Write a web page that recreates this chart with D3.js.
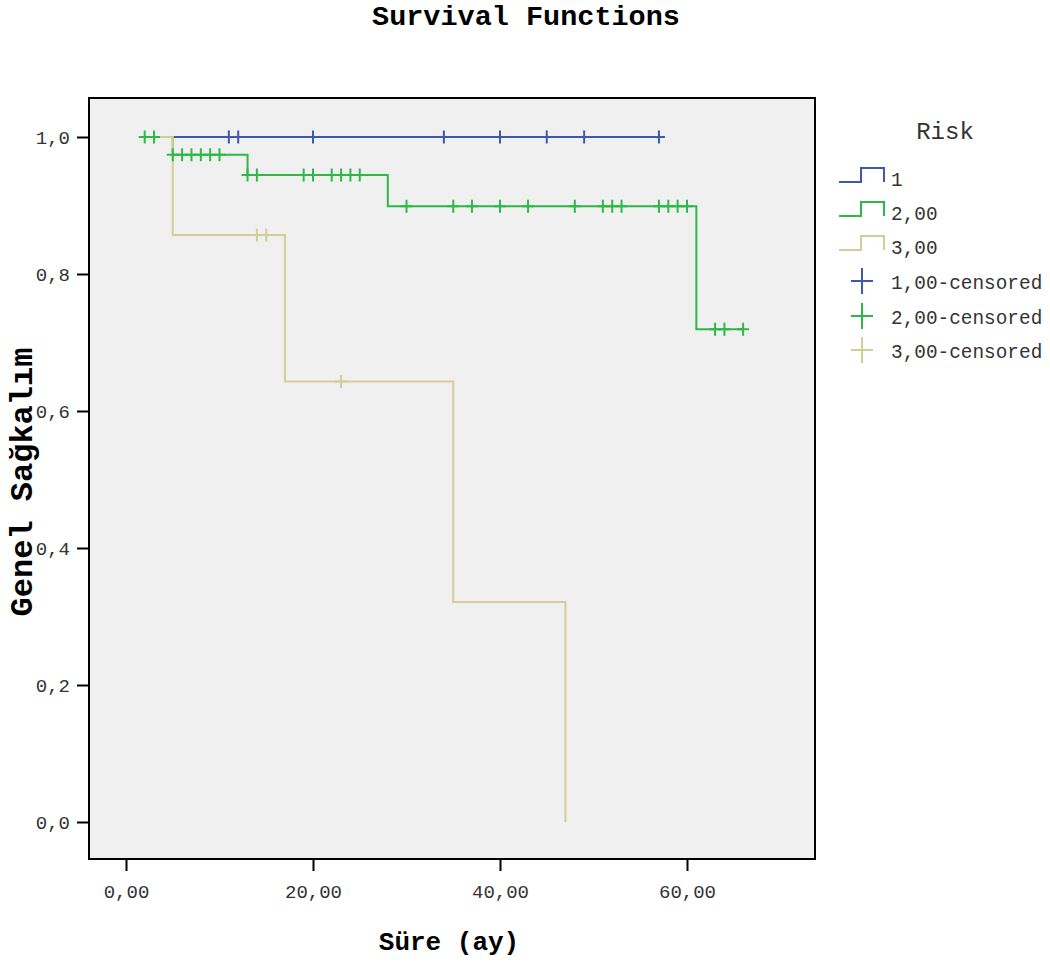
<!DOCTYPE html>
<html><head><meta charset="utf-8">
<script src="https://cdn.jsdelivr.net/npm/d3@7"></script>
<style>body{margin:0;background:#fff}svg{display:block}text{font-family:"Liberation Mono","DejaVu Sans Mono",monospace}</style>
</head><body><svg id="c" width="1050" height="963"></svg>
<script>
// ---- data ----
const groupLabels = ["1", "2,00", "3,00"];
const censorLabels = ["1,00-censored", "2,00-censored", "3,00-censored"];
const groupColors = ["#3E58AC", "#2EB848", "#D3CE97"];
// start/end time of each curve
const startTimes = [5, 2, 3.5];
const endTimes = [57, 66, 47];
// event times and survival after each event
const eventTimes1 = [];
const eventSurv1 = [];
const eventTimes2 = [5, 13, 28, 61];
const eventSurv2 = [0.974, 0.9445, 0.899, 0.7195];
const eventTimes3 = [5, 17, 35, 47];
const eventSurv3 = [0.857, 0.643, 0.321, 0.0];
// censored times
const censored1 = [11, 12, 20, 34, 40, 45, 49, 57];
const censored2 = [2, 3, 5, 6, 7, 8, 9, 10, 13, 14, 19, 20, 22, 23, 24, 25, 30, 35, 37, 40, 43, 48, 51, 52, 53, 57, 58, 59, 60, 63, 64, 66];
const censored3 = [14, 15, 23];
const xTicks = [0, 20, 40, 60];
const yTicks = [0, 0.2, 0.4, 0.6, 0.8, 1.0];

const eventTimes = [eventTimes1, eventTimes2, eventTimes3];
const eventSurv = [eventSurv1, eventSurv2, eventSurv3];
const censored = [censored1, censored2, censored3];

// ---- layout ----
const svg = d3.select("#c");
const box = {l: 89, t: 98, r: 815, b: 859};
const x = d3.scaleLinear().domain([0, 60]).range([126, 687]);
const y = d3.scaleLinear().domain([0, 1]).range([822, 137]);

svg.append("rect").attr("x", box.l).attr("y", box.t).attr("width", box.r - box.l).attr("height", box.b - box.t)
  .attr("fill", "#F0F0F0");

function survAt(g, t) {
  let s = 1;
  eventTimes[g].forEach((et, i) => { if (et <= t) s = eventSurv[g][i]; });
  return s;
}
function stepPoints(g) {
  const pts = [[startTimes[g], 1]];
  let s = 1;
  eventTimes[g].forEach((et, i) => {
    pts.push([et, s]);
    s = eventSurv[g][i];
    pts.push([et, s]);
  });
  const last = pts[pts.length - 1];
  if (endTimes[g] > last[0]) pts.push([endTimes[g], s]);
  return pts;
}
const line = d3.line().x(d => x(d[0])).y(d => y(d[1]));
[0, 1, 2].forEach(g => {
  svg.append("path").attr("d", line(stepPoints(g))).attr("fill", "none")
    .attr("stroke", groupColors[g]).attr("stroke-width", 2);
});
[0, 1, 2].forEach(g => {
  svg.append("g").selectAll("path").data(censored[g]).join("path")
    .attr("d", t => { const cx = x(t), cy = y(survAt(g, t)); return `M${cx - 6},${cy}H${cx + 6}M${cx},${cy - 6.5}V${cy + 6.5}`; })
    .attr("stroke", groupColors[g]).attr("stroke-width", 2).attr("fill", "none");
});

// frame
svg.append("rect").attr("x", box.l).attr("y", box.t).attr("width", box.r - box.l).attr("height", box.b - box.t)
  .attr("fill", "none").attr("stroke", "#000").attr("stroke-width", 2);

// axes
const xAxis = d3.axisBottom(x).tickValues(xTicks).tickSize(12).tickPadding(14)
  .tickFormat(d => d3.format(".2f")(d).replace(".", ","));
const gx = svg.append("g").attr("transform", `translate(0,${box.b})`).call(xAxis);
gx.select(".domain").remove();
gx.selectAll("line").attr("stroke", "#000").attr("stroke-width", 2);
gx.selectAll("text").attr("font-size", 19).attr("fill", "#333").attr("font-family", "Liberation Mono");

const yAxis = d3.axisLeft(y).tickValues(yTicks).tickSize(12).tickPadding(7)
  .tickFormat(d => d3.format(".1f")(d).replace(".", ","));
const gy = svg.append("g").attr("transform", `translate(${box.l},0)`).call(yAxis);
gy.select(".domain").remove();
gy.selectAll("line").attr("stroke", "#000").attr("stroke-width", 2);
gy.selectAll("text").attr("font-size", 19).attr("fill", "#333").attr("font-family", "Liberation Mono");

// titles
svg.append("text").attr("x", 526).attr("y", 25).attr("text-anchor", "middle")
  .attr("font-size", 28.5).attr("font-weight", "bold").attr("fill", "#000").text("Survival Functions");
svg.append("text").attr("x", 449).attr("y", 950).attr("text-anchor", "middle")
  .attr("font-size", 26).attr("font-weight", "bold").attr("fill", "#000").text("Süre (ay)");
svg.append("text").attr("transform", "translate(32,482) rotate(-90)").attr("text-anchor", "middle")
  .attr("font-size", 32).attr("font-weight", "bold").attr("fill", "#000").text("Genel Sağkalım");

// legend
svg.append("text").attr("x", 945).attr("y", 139).attr("text-anchor", "middle")
  .attr("font-size", 24).attr("fill", "#333").text("Risk");
const legY = [176, 210, 244];
groupLabels.forEach((lab, i) => {
  const cy = legY[i];
  svg.append("path").attr("d", `M839,${cy + 6}H861V${cy - 8}H884V${cy + 6}`)
    .attr("fill", "none").attr("stroke", groupColors[i]).attr("stroke-width", 2);
  svg.append("text").attr("x", 891).attr("y", cy + 10).attr("font-size", 19.4).attr("fill", "#333").text(lab);
});
const legCY = [281, 316, 350];
censorLabels.forEach((lab, i) => {
  const cy = legCY[i];
  svg.append("path").attr("d", `M851,${cy}H873M862,${cy - 13}V${cy + 13}`)
    .attr("fill", "none").attr("stroke", groupColors[i]).attr("stroke-width", 2);
  svg.append("text").attr("x", 891).attr("y", cy + 8).attr("font-size", 19.4).attr("fill", "#333").text(lab);
});
</script></body></html>
